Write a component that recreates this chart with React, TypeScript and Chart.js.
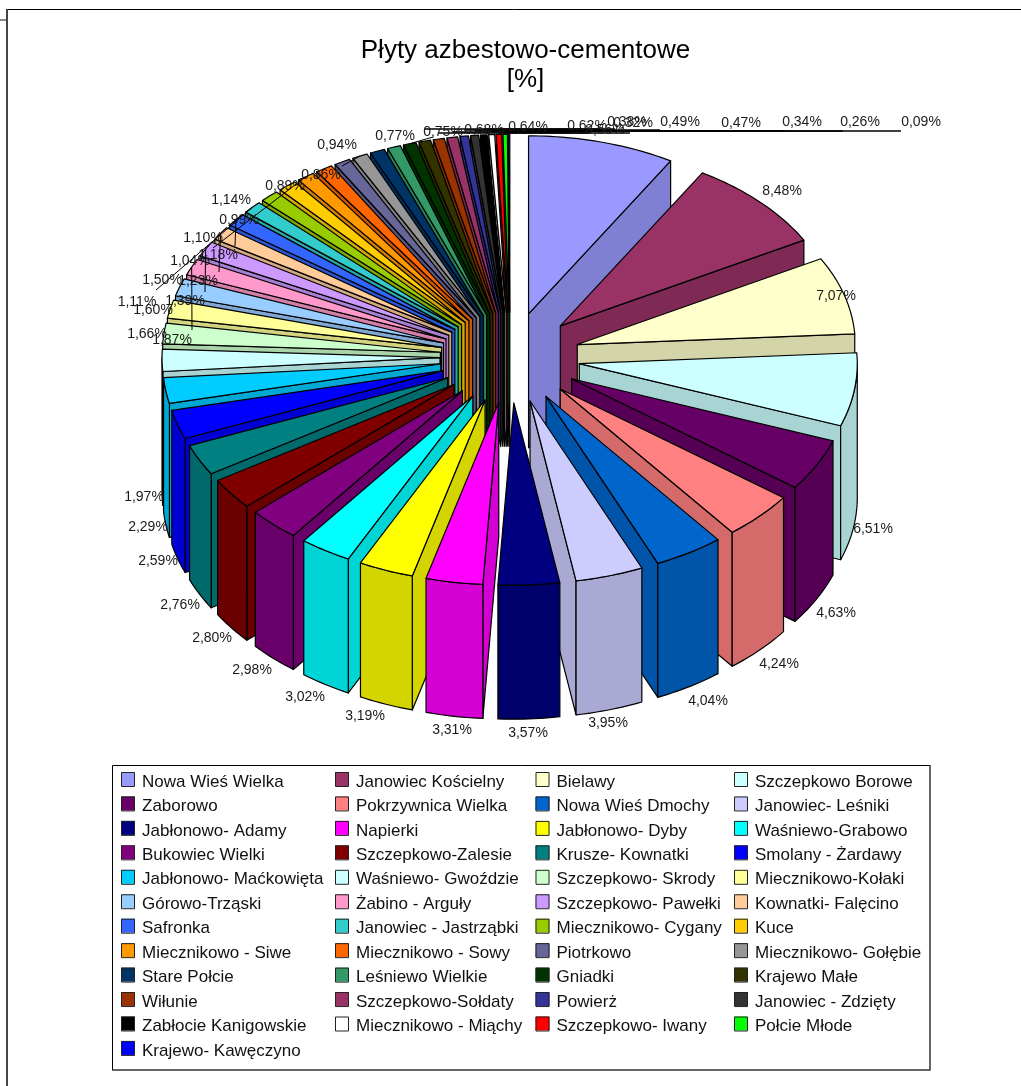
import React, { useEffect, useRef } from "react";
import { Chart, registerables } from "chart.js";

Chart.register(...registerables);

const categories = [
  "Nowa Wieś Wielka", "Janowiec Kościelny", "Bielawy", "Szczepkowo Borowe",
  "Zaborowo", "Pokrzywnica Wielka", "Nowa Wieś Dmochy", "Janowiec- Leśniki",
  "Jabłonowo- Adamy", "Napierki", "Jabłonowo- Dyby", "Waśniewo-Grabowo",
  "Bukowiec Wielki", "Szczepkowo-Zalesie", "Krusze- Kownatki", "Smolany - Żardawy",
  "Jabłonowo- Maćkowięta", "Waśniewo- Gwoździe", "Szczepkowo- Skrody", "Miecznikowo-Kołaki",
  "Górowo-Trząski", "Żabino - Arguły", "Szczepkowo- Pawełki", "Kownatki- Falęcino",
  "Safronka", "Janowiec - Jastrząbki", "Miecznikowo- Cygany", "Kuce",
  "Miecznikowo - Siwe", "Miecznikowo - Sowy", "Piotrkowo", "Miecznikowo- Gołębie",
  "Stare Połcie", "Leśniewo Wielkie", "Gniadki", "Krajewo Małe",
  "Wiłunie", "Szczepkowo-Sołdaty", "Powierż", "Janowiec - Zdzięty",
  "Zabłocie Kanigowskie", "Miecznikowo - Miąchy", "Szczepkowo- Iwany", "Połcie Młode",
  "Krajewo- Kawęczyno",
];

const values = [
  8.56, 8.48, 7.07, 6.51, 4.63, 4.24, 4.04, 3.95, 3.57, 3.31, 3.19, 3.02,
  2.98, 2.8, 2.76, 2.59, 2.29, 1.97, 1.87, 1.66, 1.6, 1.5, 1.39, 1.23,
  1.18, 1.14, 1.11, 1.1, 1.04, 0.99, 0.94, 0.89, 0.86, 0.77, 0.75, 0.68,
  0.64, 0.62, 0.49, 0.47, 0.38, 0.34, 0.32, 0.26, 0.09,
];

const colors = [
  "#9999FF", "#993366", "#FFFFCC", "#CCFFFF", "#660066", "#FF8080", "#0066CC", "#CCCCFF",
  "#000080", "#FF00FF", "#FFFF00", "#00FFFF", "#800080", "#800000", "#008080", "#0000FF",
  "#00CCFF", "#CCFFFF", "#CCFFCC", "#FFFF99", "#99CCFF", "#FF99CC", "#CC99FF", "#FFCC99",
  "#3366FF", "#33CCCC", "#99CC00", "#FFCC00", "#FF9900", "#FF6600", "#666699", "#969696",
  "#003366", "#339966", "#003300", "#333300", "#993300", "#993366", "#333399", "#333333",
  "#000000", "#FFFFFF", "#FF0000", "#00FF00", "#0000FF",
];

// Layout only: where each percentage label sits on the page (same order as categories).
const labelAnchors: [number, number][] = [
  [605, 130], [782, 191], [836, 296], [873, 529], [836, 613], [779, 664], [708, 701], [608, 723],
  [528, 733], [452, 730], [365, 716], [305, 697], [252, 670], [212, 638], [180, 605], [158, 561],
  [148, 527], [144, 497], [172, 340], [147, 334], [153, 310], [162, 280], [185, 301], [198, 281],
  [218, 255], [231, 200], [137, 302], [203, 238], [190, 261], [239, 220], [337, 145], [285, 186],
  [321, 175], [395, 136], [443, 132], [484, 130], [528, 127], [587, 126], [680, 122], [741, 123],
  [627, 122], [802, 122], [633, 123], [860, 122], [921, 122],
];

// Layout only: leader lines, [slice index, free end x, free end y]; the other end is the slice's rim.
const leaders: [number, number, number][] = [
  [21, 192, 330], [22, 205, 292], [23, 219, 272], [24, 235, 246], [25, 156, 290],
  [28, 213, 248], [31, 342, 166], [34, 433, 137],
  [35, 600, 129], [36, 590, 133], [37, 570, 132], [38, 660, 130], [40, 615, 129], [42, 630, 133],
  [39, 722, 131], [41, 785, 131], [43, 843, 131], [44, 901, 131],
];
const FLAT_LEADER_FROM = 35;

const legendColumns = [121, 335, 535.5, 734];
const FONT = '"Liberation Sans", Arial, sans-serif';
const CX = 510;
const CY = 357;
const FLATTEN_BACK = 0.64;
const FLATTEN_FRONT = 0.656;
const DEPTH = 134;
const EXPLODE = 70;

function shade(hex: string) {
  const n = parseInt(hex.slice(1), 16);
  const f = 0.83;
  const c = [(n >> 16) & 255, (n >> 8) & 255, n & 255].map((v) => Math.round(v * f));
  return `rgb(${c[0]},${c[1]},${c[2]})`;
}

const pie3d = {
  id: "pie3d",
  beforeDatasetsDraw(chart: any) {
    const ctx: CanvasRenderingContext2D = chart.ctx;
    const arcs = chart.getDatasetMeta(0).data as any[];
    ctx.save();
    ctx.lineJoin = "round";

    // page frame
    ctx.strokeStyle = "#000";
    ctx.lineWidth = 1;
    ctx.beginPath();
    ctx.moveTo(6, 9.5);
    ctx.lineTo(1021, 9.5);
    ctx.stroke();
    ctx.strokeStyle = "#444";
    ctx.lineWidth = 2;
    ctx.beginPath();
    ctx.moveTo(7, 9);
    ctx.lineTo(7, 1086);
    ctx.stroke();
    ctx.strokeStyle = "#888";
    ctx.beginPath();
    ctx.moveTo(0, 20);
    ctx.lineTo(6, 20);
    ctx.stroke();

    const geom = (arc: any) => {
      const mid = (arc.startAngle + arc.endAngle) / 2;
      const off = arc.options.offset || 0;
      const ax = Math.cos(mid) * off;
      const ay = Math.sin(mid) * off;
      const pt = (r: number, ang: number, dz = 0): [number, number] => {
        const dy = ay + Math.sin(ang) * r;
        return [CX + ax + Math.cos(ang) * r, CY + dy * (dy > 0 ? FLATTEN_FRONT : FLATTEN_BACK) + dz];
      };
      return { mid, pt, r: arc.outerRadius as number, s: arc.startAngle as number, e: arc.endAngle as number };
    };

    const poly = (pts: [number, number][], fill: string) => {
      ctx.beginPath();
      pts.forEach((p, i) => (i ? ctx.lineTo(p[0], p[1]) : ctx.moveTo(p[0], p[1])));
      ctx.closePath();
      ctx.fillStyle = fill;
      ctx.fill();
      ctx.strokeStyle = "#000";
      ctx.lineWidth = 1.2;
      ctx.stroke();
    };

    const arcPts = (g: any, a: number, b: number, dz = 0) => {
      const n = Math.max(2, Math.ceil(Math.abs(b - a) / 0.02));
      const out: [number, number][] = [];
      for (let i = 0; i <= n; i++) out.push(g.pt(g.r, a + ((b - a) * i) / n, dz));
      return out;
    };

    const drawSlice = (i: number) => {
      const arc = arcs[i];
      const g = geom(arc);
      const side = shade(colors[i]);
      // radial wall that faces the viewer
      const wall = (ang: number) => {
        const a = g.pt(0, 0);
        const b = g.pt(g.r, ang);
        poly([a, b, [b[0], b[1] + DEPTH], [a[0], a[1] + DEPTH]], side);
      };
      if (g.e < Math.PI / 2) wall(g.e);
      if (g.s > Math.PI / 2) wall(g.s);
      // curved outer wall, front half only
      const a = Math.max(g.s, 0);
      const b = Math.min(g.e, Math.PI);
      if (b > a) {
        poly([...arcPts(g, a, b), ...arcPts(g, b, a, DEPTH)], side);
      }
      // top face
      poly([g.pt(0, 0), ...arcPts(g, g.s, g.e)], colors[i]);
    };

    const order = arcs.map((_, i) => i);
    const isRight = (i: number) => geom(arcs[i]).mid <= Math.PI / 2;
    order.filter((i) => !isRight(i)).reverse().forEach(drawSlice);
    order.filter(isRight).forEach(drawSlice);

    // leader lines
    ctx.strokeStyle = "#000";
    leaders.forEach(([i, x, y]) => {
      const g = geom(arcs[i]);
      const p = g.pt(g.r, g.mid);
      const flat = i >= FLAT_LEADER_FROM;
      ctx.lineWidth = flat ? 1.5 : 1;
      ctx.beginPath();
      ctx.moveTo(p[0], flat ? y : p[1]);
      ctx.lineTo(x, y);
      ctx.stroke();
    });

    // percentage labels
    ctx.font = `14px ${FONT}`;
    ctx.fillStyle = "#1a1a1a";
    ctx.textAlign = "center";
    ctx.textBaseline = "middle";
    values.forEach((v, i) => {
      const [x, y] = labelAnchors[i];
      ctx.fillText(`${v.toFixed(2).replace(".", ",")}%`, x, y);
    });

    // legend
    ctx.strokeStyle = "#000";
    ctx.lineWidth = 1;
    ctx.beginPath();
    ctx.moveTo(112.5, 1070);
    ctx.lineTo(112.5, 765.5);
    ctx.lineTo(930, 765.5);
    ctx.stroke();
    ctx.strokeStyle = "#333";
    ctx.lineWidth = 1.5;
    ctx.beginPath();
    ctx.moveTo(930, 765);
    ctx.lineTo(930, 1070);
    ctx.lineTo(112, 1070);
    ctx.stroke();
    ctx.lineWidth = 1;
    ctx.font = `17px ${FONT}`;
    ctx.textAlign = "left";
    categories.forEach((name, i) => {
      const col = legendColumns[i % 4];
      const y = 782 + Math.floor(i / 4) * 24.45;
      ctx.fillStyle = colors[i];
      ctx.fillRect(col, y - 10, 14, 14);
      ctx.strokeStyle = "#222";
      ctx.strokeRect(col + 0.5, y - 9.5, 13, 14);
      ctx.fillStyle = "#111";
      ctx.fillText(name, col + 21, y);
    });

    ctx.restore();
    return false;
  },
};

export default function App() {
  const ref = useRef<HTMLCanvasElement>(null);
  useEffect(() => {
    const chart = new Chart(ref.current!, {
      type: "pie",
      data: {
        labels: categories,
        datasets: [
          {
            data: values,
            backgroundColor: colors,
            borderColor: "#000",
            borderWidth: 1,
            offset: EXPLODE,
          },
        ],
      },
      options: {
        responsive: false,
        animation: false,
        devicePixelRatio: 1,
        layout: { padding: { left: 212, right: 182, top: 36, bottom: 20 } },
        plugins: {
          legend: { display: false },
          tooltip: { enabled: false },
          title: {
            display: true,
            fullSize: false,
            text: ["Płyty azbestowo-cementowe", "[%]"],
            color: "#000",
            font: { family: FONT, size: 26, weight: "normal", lineHeight: 1.13 },
            padding: 0,
          },
        },
      },
      plugins: [pie3d],
    } as any);
    return () => chart.destroy();
  }, []);
  return (
    <canvas
      ref={ref}
      width={1021}
      height={1086}
      style={{ position: "absolute", left: 0, top: 0, display: "block", background: "#fff" }}
    />
  );
}
